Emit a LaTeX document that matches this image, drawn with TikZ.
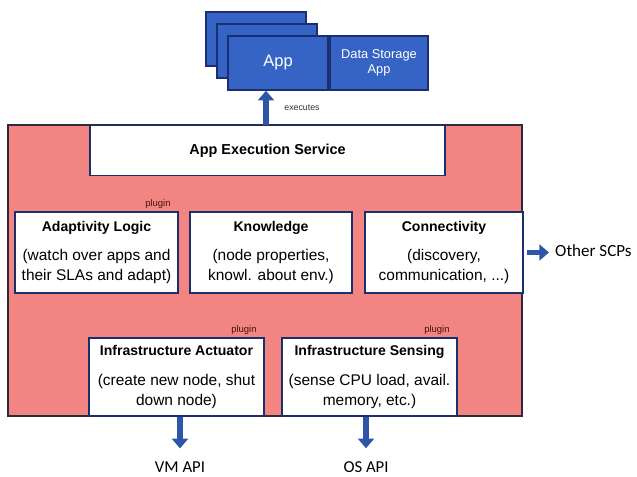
\documentclass[tikz,border=0pt]{standalone}
\usepackage{fontspec}
\setmainfont{Liberation Sans}
\newfontfamily\calibri{Carlito}
\usetikzlibrary{positioning, arrows.meta}
\definecolor{CorePink}{HTML}{F28482}
\definecolor{FrameDark}{HTML}{2B2B3A}
\definecolor{AppBlue}{HTML}{3564C4}
\definecolor{AppEdge}{HTML}{1B2F6E}
\definecolor{ArrowBlue}{HTML}{2E56A6}
\definecolor{LabelDark}{HTML}{333333}
\definecolor{PluginRed}{HTML}{4A1212}

\begin{document}
\begin{tikzpicture}[
  modbox/.style={draw=AppEdge,fill=white,line width=0.8pt,align=center,inner sep=2pt,font=\fontsize{8.8}{11.4}\selectfont},
  appbox/.style={draw=AppEdge,fill=AppBlue,line width=0.8pt,minimum width=2cm,minimum height=1.08cm,align=center,text=white},
  bigarrow/.style={draw=ArrowBlue,line width=3.2pt,-{Triangle[width=9pt,length=5.5pt]}},
  plugtxt/.style={font=\fontsize{5.4}{6}\selectfont,text=PluginRed,inner sep=1pt},
  apitxt/.style={font=\calibri\fontsize{9.5}{11}\selectfont}
]
\useasboundingbox (0,0) rectangle (12.74,9.54);

% node core
\node[draw=FrameDark,fill=CorePink,line width=0.8pt,minimum width=10.28cm,minimum height=5.82cm] (core) at (5.3,4.13) {};

% stacked apps on top
\node[appbox] (appback) at (5.12,8.76) {};
\node[appbox] (appmid) at (5.34,8.52) {};
\node[appbox,font=\fontsize{9.4}{11}\selectfont] (app) at (5.56,8.28) {App};
\node[appbox,minimum width=1.96cm,font=\fontsize{7.3}{8.6}\selectfont] (store) at (7.58,8.28) {Data Storage\\App};

\node[modbox,minimum width=7.1cm,minimum height=1cm,font=\fontsize{8.2}{10}\selectfont\bfseries] (exec) at (5.35,6.53) {App Execution Service};

% middle row
\node[modbox,minimum width=3.26cm,minimum height=1.62cm] (adapt) at (1.93,4.49) {{\fontsize{8}{10}\selectfont\bfseries Adaptivity Logic}\\[5.5pt](watch over apps and\\their SLAs and adapt)};
\node[modbox,minimum width=3.24cm,minimum height=1.62cm] (know) at (5.42,4.49) {{\fontsize{8}{10}\selectfont\bfseries Knowledge}\\[5.5pt](node properties,\\knowl. about env.)};
\node[modbox,minimum width=3.16cm,minimum height=1.62cm] (conn) at (8.88,4.49) {{\fontsize{8}{10}\selectfont\bfseries Connectivity}\\[5.5pt](discovery,\\communication, ...)};

% bottom row
\node[modbox,minimum width=3.5cm,minimum height=1.56cm] (act) at (3.53,2.0) {{\fontsize{8}{10}\selectfont\bfseries Infrastructure Actuator}\\[5.5pt](create new node, shut\\down node)};
\node[modbox,minimum width=3.5cm,minimum height=1.56cm] (sense) at (7.39,2.0) {{\fontsize{8}{10}\selectfont\bfseries Infrastructure Sensing}\\[5.5pt](sense CPU load, avail.\\memory, etc.)};

\node[plugtxt,anchor=south east] (plugadapt) at ([xshift=-0.12cm,yshift=0.02cm]adapt.north east) {plugin};
\node[plugtxt,anchor=south east] (plugact) at ([xshift=-0.12cm,yshift=0.02cm]act.north east) {plugin};
\node[plugtxt,anchor=south east] (plugsense) at ([xshift=-0.12cm,yshift=0.02cm]sense.north east) {plugin};

% arrows out of the core
\coordinate (exarrow) at ([xshift=-0.24cm]app.south);
\draw[bigarrow] (exarrow |- exec.north) -- (exarrow);
\node[font=\fontsize{5}{6}\selectfont,text=LabelDark] (exlbl) at (6.04,7.38) {executes};

\node[apitxt,font=\calibri\fontsize{9.7}{11}\selectfont,anchor=west] (scps) at (10.98,4.52) {Other SCPs};
\draw[bigarrow,shorten <=2pt] (conn.east) -- (conn.east -| scps.west);

\node[apitxt] (vmapi) at (3.6,0.2) {VM API};
\node[apitxt] (osapi) at (7.32,0.2) {OS API};
\draw[bigarrow,shorten >=4pt] (act.south -| vmapi) -- (vmapi.north);
\draw[bigarrow,shorten >=4pt] (sense.south -| osapi) -- (osapi.north);
\end{tikzpicture}
\end{document}
